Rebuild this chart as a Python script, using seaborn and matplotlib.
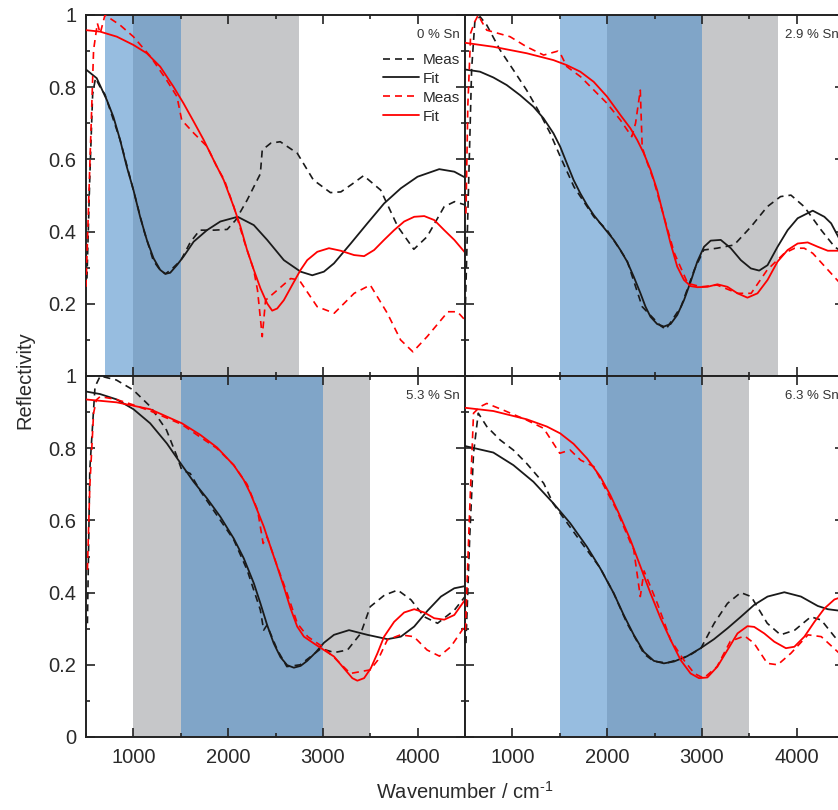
import matplotlib
matplotlib.use("Agg")
import matplotlib.pyplot as plt
import seaborn as sns
from matplotlib.ticker import MultipleLocator, FixedLocator

# ---------------- data ----------------
# 0 % Sn
sn0_bfit_x = [500, 613, 719, 789, 860, 930, 1001, 1071, 1142, 1213, 1283, 1336, 1389, 1459, 1530, 1636, 1777, 1918, 2101, 2271, 2412, 2588, 2765, 2888, 3011, 3117, 3294, 3470, 3646, 3823, 3999, 4228, 4387, 4500]
sn0_bfit_y = [.849, .825, .765, .718, .654, .58, .515, .441, .377, .326, .294, .283, .286, .307, .331, .372, .404, .428, .441, .418, .377, .321, .289, .279, .289, .312, .367, .423, .478, .52, .552, .573, .566, .55]
sn0_bmeas_x = [510, 540, 570, 600, 650, 700, 860, 1000, 1110, 1210, 1280, 1340, 1420, 1500, 1600, 1700, 1850, 1990, 2080, 2200, 2340, 2360, 2450, 2550, 2730, 2900, 3080, 3190, 3300, 3430, 3610, 3790, 3960, 4100, 4280, 4390, 4500]
sn0_bmeas_y = [.27, .55, .78, .825, .80, .78, .654, .515, .404, .32, .294, .283, .30, .32, .37, .404, .404, .406, .432, .487, .56, .626, .645, .649, .617, .543, .508, .51, .53, .555, .515, .414, .351, .386, .469, .483, .474]
sn0_rfit_x = [500, 648, 825, 1001, 1142, 1283, 1424, 1530, 1636, 1742, 1847, 1953, 2059, 2130, 2200, 2271, 2341, 2412, 2465, 2518, 2588, 2676, 2765, 2835, 2941, 3064, 3188, 3329, 3435, 3541, 3646, 3752, 3858, 3964, 4070, 4175, 4281, 4387, 4500]
sn0_rfit_y = [.958, .954, .94, .917, .894, .857, .801, .755, .705, .654, .598, .543, .469, .414, .349, .294, .243, .201, .181, .187, .21, .252, .294, .321, .344, .354, .347, .335, .332, .349, .377, .404, .428, .441, .443, .432, .404, .377, .342]
sn0_rmeas_x = [500, 540, 580, 620, 650, 700, 860, 1000, 1180, 1350, 1460, 1510, 1640, 1780, 1880, 1960, 2060, 2165, 2270, 2310, 2360, 2395, 2520, 2660, 2750, 2940, 3120, 3330, 3500, 3680, 3820, 3950, 4100, 4320, 4420, 4500]
sn0_rmeas_y = [.247, .58, .903, .977, .949, 1.0, .972, .94, .885, .82, .774, .709, .672, .635, .58, .543, .469, .377, .294, .238, .109, .21, .238, .27, .266, .192, .174, .229, .252, .174, .10, .067, .109, .178, .178, .155]

# 2.9 % Sn
sn29_bfit_x = [500, 658, 799, 940, 1081, 1222, 1328, 1434, 1505, 1575, 1646, 1717, 1787, 1858, 1928, 1999, 2070, 2140, 2211, 2281, 2352, 2405, 2458, 2528, 2599, 2670, 2740, 2811, 2881, 2952, 3023, 3093, 3199, 3305, 3411, 3517, 3605, 3693, 3799, 3905, 4011, 4170, 4293, 4364, 4449, 4500]
sn29_bfit_y = [.849, .843, .827, .806, .778, .746, .714, .672, .635, .589, .543, .506, .474, .446, .423, .40, .377, .349, .317, .275, .229, .192, .164, .144, .137, .144, .169, .21, .261, .317, .358, .375, .377, .354, .321, .298, .292, .307, .358, .404, .437, .458, .441, .423, .381, .36]
sn29_bmeas_x = [505, 540, 570, 605, 660, 730, 870, 1010, 1150, 1290, 1400, 1505, 1650, 1860, 2000, 2210, 2370, 2560, 2620, 2780, 2920, 3020, 3160, 3340, 3520, 3690, 3830, 3940, 4080, 4260, 4400, 4500]
sn29_bmeas_y = [.2, .55, .85, .986, .995, .972, .903, .848, .792, .728, .672, .608, .524, .441, .404, .32, .192, .14, .129, .192, .294, .349, .354, .363, .414, .469, .497, .501, .469, .404, .358, .34]
sn29_rfit_x = [500, 799, 1152, 1434, 1575, 1717, 1858, 1999, 2140, 2246, 2317, 2387, 2458, 2528, 2599, 2670, 2740, 2811, 2881, 2952, 3058, 3164, 3270, 3376, 3481, 3587, 3693, 3799, 3905, 4011, 4117, 4223, 4329, 4449, 4500]
sn29_rfit_y = [.923, .912, .894, .875, .861, .843, .815, .774, .723, .686, .654, .617, .571, .515, .441, .367, .303, .266, .249, .246, .247, .254, .247, .229, .217, .229, .266, .317, .349, .367, .37, .358, .347, .347, .345]
sn29_rmeas_x = [510, 530, 560, 600, 640, 680, 730, 975, 1150, 1330, 1480, 1505, 1575, 1720, 1860, 2000, 2140, 2260, 2300, 2320, 2350, 2370, 2400, 2490, 2600, 2710, 2850, 2990, 3160, 3380, 3520, 3690, 3870, 3980, 4080, 4170, 4330, 4500]
sn29_rmeas_y = [.45, .75, .95, .98, 1.0, .98, .958, .94, .912, .889, .9, .894, .857, .829, .792, .755, .709, .663, .70, .737, .792, .635, .608, .543, .441, .34, .257, .247, .252, .229, .229, .294, .34, .354, .354, .34, .294, .245]

# 5.3 % Sn
sn53_bfit_x = [500, 648, 825, 1001, 1177, 1354, 1512, 1636, 1777, 1918, 2059, 2165, 2271, 2341, 2412, 2482, 2553, 2623, 2694, 2765, 2835, 2923, 3011, 3117, 3276, 3470, 3682, 3823, 3964, 4105, 4246, 4387, 4500]
sn53_bfit_y = [.957, .95, .935, .908, .869, .813, .753, .707, .661, .61, .55, .495, .426, .37, .31, .259, .221, .199, .192, .197, .211, .234, .261, .283, .296, .283, .271, .278, .306, .35, .389, .412, .418]
sn53_bmeas_x = [515, 540, 595, 650, 820, 1000, 1180, 1350, 1460, 1510, 1600, 1710, 1880, 2060, 2200, 2340, 2375, 2410, 2520, 2620, 2760, 2980, 3120, 3260, 3400, 3500, 3650, 3790, 3930, 4070, 4210, 4390, 4500]
sn53_bmeas_y = [.315, .74, .97, 1.0, .989, .961, .915, .85, .777, .74, .73, .68, .615, .546, .463, .352, .296, .31, .241, .195, .2, .245, .234, .241, .287, .361, .393, .407, .38, .333, .315, .352, .389]
sn53_rfit_x = [500, 825, 1177, 1512, 1706, 1883, 2059, 2165, 2235, 2306, 2376, 2447, 2518, 2588, 2659, 2729, 2800, 2906, 3011, 3117, 3223, 3311, 3364, 3435, 3505, 3576, 3646, 3752, 3858, 3964, 4070, 4175, 4281, 4387, 4500]
sn53_rfit_y = [.935, .927, .908, .869, .837, .802, .753, .712, .675, .629, .583, .527, .472, .416, .356, .306, .278, .259, .241, .223, .19, .163, .156, .163, .19, .232, .278, .319, .345, .354, .345, .329, .325, .338, .38]
sn53_rmeas_x = [515, 540, 580, 610, 650, 820, 1000, 1180, 1510, 1710, 1880, 2060, 2200, 2310, 2370, 2410, 2520, 2620, 2730, 2840, 2980, 3120, 3290, 3500, 3580, 3680, 3820, 3960, 4100, 4230, 4350, 4480, 4500]
sn53_rmeas_y = [.463, .693, .897, .934, .943, .935, .92, .903, .866, .83, .80, .753, .70, .629, .536, .555, .472, .40, .315, .278, .253, .22, .176, .186, .213, .269, .283, .278, .241, .224, .25, .30, .31]

# 6.3 % Sn
sn63_bfit_x = [500, 799, 1011, 1222, 1434, 1611, 1787, 1928, 2070, 2175, 2281, 2387, 2493, 2599, 2705, 2846, 2987, 3128, 3270, 3411, 3552, 3693, 3870, 4046, 4223, 4329, 4449, 4500]
sn63_bfit_y = [.806, .788, .753, .707, .647, .592, .527, .467, .398, .338, .283, .236, .211, .204, .209, .224, .246, .271, .301, .333, .366, .389, .401, .389, .363, .354, .35, .349]
sn63_bmeas_x = [510, 550, 590, 640, 730, 870, 1010, 1150, 1330, 1430, 1680, 1930, 2070, 2210, 2390, 2490, 2630, 2850, 2990, 3130, 3270, 3410, 3520, 3690, 3830, 3980, 4150, 4260, 4400, 4500]
sn63_bmeas_y = [.26, .555, .786, .897, .86, .823, .795, .758, .703, .647, .556, .467, .398, .315, .23, .21, .205, .223, .246, .315, .37, .40, .389, .315, .283, .296, .333, .324, .278, .25]
sn63_rfit_x = [500, 799, 1152, 1364, 1505, 1646, 1787, 1928, 2034, 2140, 2246, 2352, 2458, 2564, 2670, 2776, 2881, 2970, 3058, 3164, 3270, 3376, 3481, 3552, 3658, 3764, 3887, 3976, 4082, 4188, 4293, 4399, 4500]
sn63_rfit_y = [.912, .903, .88, .86, .841, .812, .772, .721, .67, .61, .546, .472, .398, .329, .269, .213, .176, .163, .165, .195, .241, .287, .307, .305, .287, .264, .246, .25, .278, .319, .356, .381, .39]
sn63_rmeas_x = [505, 545, 590, 660, 730, 900, 1150, 1330, 1500, 1610, 1720, 1860, 2100, 2250, 2280, 2350, 2390, 2530, 2670, 2810, 2920, 3020, 3160, 3300, 3450, 3550, 3690, 3800, 3940, 4120, 4260, 4500]
sn63_rmeas_y = [.296, .6, .897, .915, .924, .906, .878, .855, .786, .795, .767, .749, .629, .536, .52, .389, .46, .37, .269, .213, .176, .163, .195, .265, .28, .26, .204, .2, .232, .283, .278, .22]

panel_labels = ["0 % Sn", "2.9 % Sn", "5.3 % Sn", "6.3 % Sn"]
legend_labels = ["Meas", "Fit", "Meas", "Fit"]
x_ticks = [1000, 2000, 3000, 4000]
y_ticks = [0, 0.2, 0.4, 0.6, 0.8, 1]

# shaded regions per panel: (start, end, kind)
spans0 = [(700, 1000, "light"), (1000, 1500, "dark"), (1500, 2750, "gray")]
spans29 = [(1500, 2000, "light"), (2000, 3000, "dark"), (3000, 3800, "gray")]
spans53 = [(1000, 1500, "gray"), (1500, 3000, "dark"), (3000, 3500, "gray")]
spans63 = [(1500, 2000, "light"), (2000, 3000, "dark"), (3000, 3500, "gray")]

# ---------------- style ----------------
sns.set_style("ticks")
plt.rcParams["font.family"] = ["Liberation Sans", "DejaVu Sans"]
plt.rcParams["mathtext.fontset"] = "custom"
plt.rcParams["mathtext.rm"] = "Liberation Sans"
plt.rcParams["mathtext.it"] = "Liberation Sans:italic"
plt.rcParams["mathtext.bf"] = "Liberation Sans:bold"

span_colors = {"light": "#97bde0", "dark": "#80a5c8", "gray": "#c6c7c9"}
BLACK = "#1a1a1a"
RED = "#ff0000"
AX = "#222222"
TXT = "#2a2a2a"
dash = (0, (4.2, 3.0))

W, H = 838, 810
fig = plt.figure(figsize=(W / 100, H / 100), dpi=100)

lx0, rx0, aw = 86 / W, 465 / W, 379 / W
top_y0, bot_y0, ah = 1 - 376 / H, 1 - 737 / H, 361 / H

positions = [(lx0, top_y0), (rx0, top_y0), (lx0, bot_y0), (rx0, bot_y0)]
panels = [
    (sn0_bmeas_x, sn0_bmeas_y, sn0_bfit_x, sn0_bfit_y, sn0_rmeas_x, sn0_rmeas_y, sn0_rfit_x, sn0_rfit_y, spans0),
    (sn29_bmeas_x, sn29_bmeas_y, sn29_bfit_x, sn29_bfit_y, sn29_rmeas_x, sn29_rmeas_y, sn29_rfit_x, sn29_rfit_y, spans29),
    (sn53_bmeas_x, sn53_bmeas_y, sn53_bfit_x, sn53_bfit_y, sn53_rmeas_x, sn53_rmeas_y, sn53_rfit_x, sn53_rfit_y, spans53),
    (sn63_bmeas_x, sn63_bmeas_y, sn63_bfit_x, sn63_bfit_y, sn63_rmeas_x, sn63_rmeas_y, sn63_rfit_x, sn63_rfit_y, spans63),
]

for i, ((x0, y0), p) in enumerate(zip(positions, panels)):
    ax = fig.add_axes([x0, y0, aw, ah])
    bmx, bmy, bfx, bfy, rmx, rmy, rfx, rfy, spans = p
    for s, e, k in spans:
        ax.axvspan(s, e, color=span_colors[k], lw=0, zorder=0)
    sns.lineplot(x=bmx, y=bmy, ax=ax, color=BLACK, lw=1.2, linestyle=dash,
                 label=legend_labels[0] if i == 0 else None, zorder=3)
    sns.lineplot(x=bfx, y=bfy, ax=ax, color=BLACK, lw=1.3,
                 label=legend_labels[1] if i == 0 else None, zorder=3)
    sns.lineplot(x=rmx, y=rmy, ax=ax, color=RED, lw=1.2, linestyle=dash,
                 label=legend_labels[2] if i == 0 else None, zorder=4)
    sns.lineplot(x=rfx, y=rfy, ax=ax, color=RED, lw=1.3,
                 label=legend_labels[3] if i == 0 else None, zorder=4)

    ax.set_xlim(500, 4500)
    ax.set_ylim(0, 1)
    ax.set_xlabel("")
    ax.set_ylabel("")
    ax.xaxis.set_major_locator(FixedLocator(x_ticks))
    ax.xaxis.set_minor_locator(MultipleLocator(500))
    ax.yaxis.set_major_locator(FixedLocator(y_ticks))
    ax.yaxis.set_minor_locator(MultipleLocator(0.1))
    ax.tick_params(which="both", direction="in", top=True, right=True,
                   color=AX, width=1.2, labelsize=14.5, labelcolor=TXT)
    ax.tick_params(which="major", length=6.5)
    ax.tick_params(which="minor", length=3)
    ax.tick_params(axis="x", pad=8)
    ax.tick_params(axis="y", pad=7)
    for sp in ax.spines.values():
        sp.set_color(AX)
        sp.set_linewidth(1.4)

    if i in (0, 2):
        if i == 0:
            ax.set_yticklabels(["", "0.2", "0.4", "0.6", "0.8", "1"])
        else:
            ax.set_yticklabels(["0", "0.2", "0.4", "0.6", "0.8", "1"])
    else:
        ax.tick_params(axis="y", labelleft=False)
    if i in (2, 3):
        ax.set_xticklabels([str(v) for v in x_ticks])
    else:
        ax.tick_params(axis="x", labelbottom=False)

    ax.text(0.987, 0.962, panel_labels[i], transform=ax.transAxes, ha="right",
            va="top", fontsize=9.5, color="#333333", zorder=6)

    if i == 0:
        leg = ax.legend(loc="upper right", bbox_to_anchor=(0.988, 0.895),
                        frameon=False, fontsize=11, handlelength=2.4,
                        handletextpad=0.25, labelspacing=0.32, borderpad=0,
                        borderaxespad=0)
        for t in leg.get_texts():
            t.set_color(TXT)
    elif ax.get_legend() is not None:
        ax.get_legend().remove()

fig.text(25 / W, 1 - 380 / H, "Reflectivity", rotation=90, ha="center",
         va="center", fontsize=14.5, color=TXT)
fig.text(465 / W, 1 - 792 / H, "Wavenumber / cm$^{\\text{-1}}$", ha="center",
         va="center", fontsize=14.5, color=TXT)

fig.savefig("out.png", dpi=100)
